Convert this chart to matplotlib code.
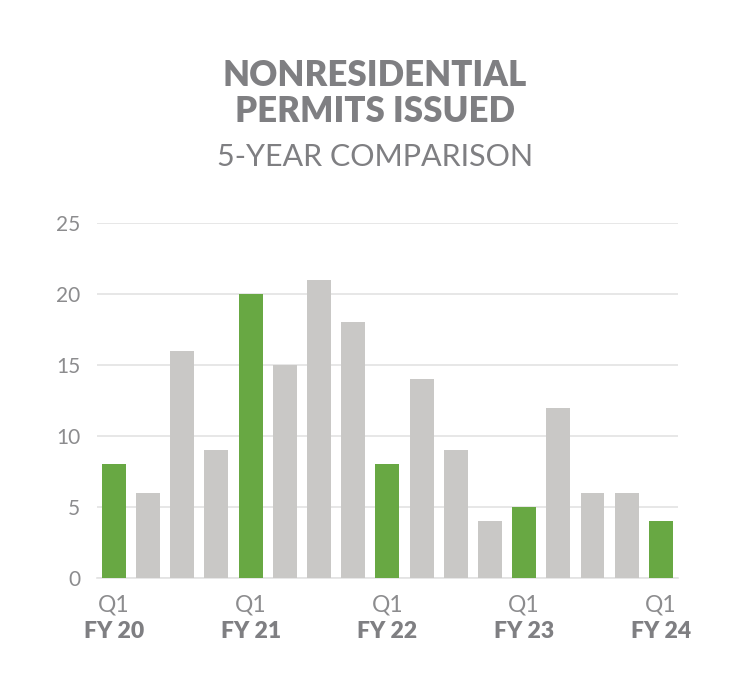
import matplotlib
matplotlib.use('Agg')
import matplotlib.pyplot as plt
import matplotlib.transforms as mtransforms

# data
values = [8, 6, 16, 9, 20, 15, 21, 18, 8, 14, 9, 4, 5, 12, 6, 6, 4]
q1_idx = [0, 4, 8, 12, 16]
fy_labels = ['FY 20', 'FY 21', 'FY 22', 'FY 23', 'FY 24']
yticks = [0, 5, 10, 15, 20, 25]

green = '#68a843'
grey = '#c9c8c6'
text_grey = '#7f7f82'
tick_grey = '#8c8c8e'

plt.rcParams['font.family'] = ['Lato', 'DejaVu Sans']

fig = plt.figure(figsize=(7.5, 6.97), dpi=100, facecolor='white')
ax = fig.add_axes([0.129, 0.1707, 0.775, 0.5093])

colors = [green if i in q1_idx else grey for i in range(len(values))]
ax.bar(range(len(values)), values, width=0.7, color=colors, zorder=3)

ax.set_xlim(-0.5, 16.5)
ax.set_ylim(0, 25)
ax.set_yticks(yticks)
ax.set_yticklabels([str(v) for v in yticks], fontsize=15, color=tick_grey)
ax.grid(True, axis='y', color='#e3e3e3', linewidth=1.2, zorder=0)
ax.tick_params(axis='y', length=0, pad=12)
ax.tick_params(axis='x', length=0, pad=12)
for s in ['top', 'right', 'left']:
    ax.spines[s].set_visible(False)
ax.spines['bottom'].set_color('#e3e3e3')
ax.spines['bottom'].set_linewidth(1.2)

ax.set_xticks(q1_idx)
ax.set_xticklabels(['Q1'] * len(q1_idx), fontsize=16.5, color=tick_grey)

trans = mtransforms.blended_transform_factory(ax.transData, fig.transFigure)
for i, lab in zip(q1_idx, fy_labels):
    ax.text(i, 1 - 632 / 697, lab, transform=trans, ha='center', va='center',
            fontsize=16.5, fontweight='heavy', color=text_grey)

fig.text(0.5, 1 - 75 / 697, 'NONRESIDENTIAL', ha='center', va='center',
         fontsize=25, fontweight='heavy', color=text_grey)
fig.text(0.5, 1 - 112 / 697, 'PERMITS ISSUED', ha='center', va='center',
         fontsize=25, fontweight='heavy', color=text_grey)
fig.text(0.5, 1 - 157 / 697, '5-YEAR COMPARISON', ha='center', va='center',
         fontsize=22, color=text_grey)

fig.savefig('out.png', dpi=100, facecolor='white')
